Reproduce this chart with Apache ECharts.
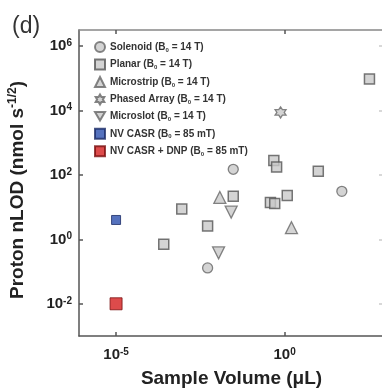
<!DOCTYPE html>
<html>
<head>
<meta charset="utf-8">
<script src="https://cdn.jsdelivr.net/npm/echarts@6/dist/echarts.min.js"></script>
<style>
  html, body { margin: 0; padding: 0; background: #fff; }
  #main { width: 382px; height: 389px; }
</style>
</head>
<body>
<div id="main"></div>
<script>
  // values (volume in uL, nLOD in nmol s^-1/2)
  const seriesNames = [
    'Solenoid (B₀ = 14 T)',
    'Planar (B₀ = 14 T)',
    'Microstrip (B₀ = 14 T)',
    'Phased Array (B₀ = 14 T)',
    'Microslot (B₀ = 14 T)',
    'NV CASR (B₀ = 85 mT)',
    'NV CASR + DNP (B₀ = 85 mT)'
  ];
  const solenoidVol = [0.03, 0.0052, 50];
  const solenoidLod = [150, 0.13, 31];
  const planarVol = [0.00089, 0.00026, 0.0052, 0.03, 0.48, 0.58, 0.38, 0.51, 1.2, 10, 330];
  const planarLod = [8.7, 0.7, 2.6, 22, 280, 175, 14, 13, 23, 130, 95000];
  const microstripVol = [0.012, 1.6];
  const microstripLod = [20, 2.3];
  const phasedVol = [0.76];
  const phasedLod = [8700];
  const microslotVol = [0.026, 0.011];
  const microslotLod = [7, 0.38];
  const nvVol = [0.00001];
  const nvLod = [4];
  const dnpVol = [0.00001];
  const dnpLod = [0.01];

  const xTicks = [-5, 0];
  const yTicks = [-2, 0, 2, 4, 6];

  function pts(xs, ys) {
    return xs.map((x, i) => [Math.log10(x), Math.log10(ys[i])]);
  }

  const hexStar = 'path://M0,-10 L2.89,-5 L8.66,-5 L5.77,0 L8.66,5 L2.89,5 L0,10 L-2.89,5 L-8.66,5 L-5.77,0 L-8.66,-5 L-2.89,-5 Z';
  const downTri = 'path://M0,9 L10,-8 L-10,-8 Z';

  const grayStyle = { color: '#c9c9c9', borderColor: '#666', borderWidth: 1.3 };

  let chart = echarts.init(document.getElementById('main'));

  const tickLabel = {
    formatter: function (v) { return '{b|10}{s|' + v + '}'; },
    rich: {
      b: { fontFamily: 'Liberation Sans', fontWeight: 'bold', fontSize: 15, color: '#222', lineHeight: 16 },
      s: { fontFamily: 'Liberation Sans', fontWeight: 'bold', fontSize: 10, color: '#222', lineHeight: 16, verticalAlign: 'top', padding: [0, 0, 7, 0] }
    }
  };
  const lineStyle = { color: '#555', width: 1.5 };

  let option = {
    animation: false,
    title: {
      text: '(d)',
      left: 7,
      top: 10,
      textStyle: { fontFamily: 'Liberation Sans', fontWeight: 'normal', fontSize: 23, color: '#333' }
    },
    grid: { left: 79, top: 30, right: -2, bottom: 53, outerBoundsMode: 'none', containLabel: false },
    legend: {
      orient: 'vertical',
      left: 89,
      top: 36,
      itemWidth: 10,
      itemHeight: 10,
      itemGap: 5.5,
      data: seriesNames,
      formatter: function (name) {
        const parts = name.split('₀');
        return '{t|' + parts[0] + '}{s|0}{t|' + parts[1] + '}';
      },
      textStyle: {
        rich: {
          t: { fontFamily: 'Liberation Sans', fontWeight: 'bold', fontSize: 10, color: '#333', lineHeight: 12 },
          s: { fontFamily: 'Liberation Sans', fontWeight: 'bold', fontSize: 6, color: '#333', lineHeight: 12, verticalAlign: 'bottom', padding: [5, 0, 0, 0] }
        }
      }
    },
    xAxis: [{
      type: 'value',
      min: -6.1,
      max: 2.95,
      name: 'Sample Volume (μL)',
      nameLocation: 'middle',
      nameGap: 31,
      nameTextStyle: { fontFamily: 'Liberation Sans', fontWeight: 'bold', fontSize: 19, color: '#222' },
      axisLine: { show: true, onZero: false, lineStyle: lineStyle },
      axisTick: { show: true, inside: true, length: 4, customValues: xTicks, lineStyle: lineStyle },
      axisLabel: Object.assign({}, tickLabel, { customValues: xTicks, margin: 11 }),
      splitLine: { show: false }
    }, {
      type: 'value',
      position: 'top',
      min: -6.1,
      max: 2.95,
      axisLine: { show: true, onZero: false, lineStyle: { color: '#888', width: 1.5 } },
      axisTick: { show: true, inside: true, length: 4, customValues: xTicks, lineStyle: lineStyle },
      axisLabel: { show: false },
      splitLine: { show: false }
    }],
    yAxis: [{
      type: 'value',
      min: -3,
      max: 6.5,
      name: '{n|Proton nLOD (nmol s}{s|-1/2}{n|)}',
      nameLocation: 'middle',
      nameGap: 51,
      nameTextStyle: {
        padding: [0, 14, 0, 0],
        rich: {
          n: { fontFamily: 'Liberation Sans', fontWeight: 'bold', fontSize: 19, color: '#222' },
          s: { fontFamily: 'Liberation Sans', fontWeight: 'bold', fontSize: 12, color: '#222', verticalAlign: 'top', padding: [0, 0, 9, 0] }
        }
      },
      axisLine: { show: true, onZero: false, lineStyle: lineStyle },
      axisTick: { show: true, inside: true, length: 4, customValues: yTicks, lineStyle: lineStyle },
      axisLabel: Object.assign({}, tickLabel, { customValues: yTicks, margin: 7 }),
      splitLine: { show: false }
    }, {
      type: 'value',
      position: 'right',
      min: -3,
      max: 6.5,
      axisLine: { show: false, onZero: false },
      axisTick: { show: true, inside: true, length: 5, customValues: yTicks, lineStyle: { color: '#ccc', width: 1.5 } },
      axisLabel: { show: false },
      splitLine: { show: false }
    }],
    series: [
      { name: seriesNames[0], type: 'scatter', symbol: 'circle', symbolSize: 10, itemStyle: grayStyle, data: pts(solenoidVol, solenoidLod) },
      { name: seriesNames[1], type: 'scatter', symbol: 'rect', symbolSize: 10, itemStyle: { color: '#c9c9c9', borderColor: '#555', borderWidth: 1.5 }, data: pts(planarVol, planarLod) },
      { name: seriesNames[2], type: 'scatter', symbol: 'triangle', symbolSize: 12, itemStyle: grayStyle, data: pts(microstripVol, microstripLod) },
      { name: seriesNames[3], type: 'scatter', symbol: hexStar, symbolSize: 11, itemStyle: grayStyle, data: pts(phasedVol, phasedLod) },
      { name: seriesNames[4], type: 'scatter', symbol: downTri, symbolSize: 12, itemStyle: grayStyle, data: pts(microslotVol, microslotLod) },
      { name: seriesNames[5], type: 'scatter', symbol: 'rect', symbolSize: 9, itemStyle: { color: '#2b4fae', borderColor: '#1c2c66', borderWidth: 1 }, data: pts(nvVol, nvLod) },
      { name: seriesNames[6], type: 'scatter', symbol: 'rect', symbolSize: 12, itemStyle: { color: '#d41e1e', borderColor: '#7a1010', borderWidth: 1 }, data: pts(dnpVol, dnpLod) }
    ]
  };
  chart.setOption(option);
</script>
</body>
</html>
